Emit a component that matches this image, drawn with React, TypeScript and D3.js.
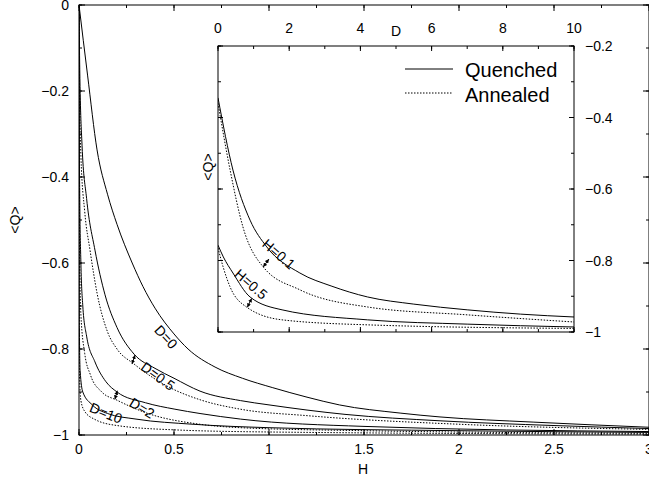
import React from 'react';
import * as d3 from 'd3';

// ---------- Main plot data: <Q> vs H ----------
const mainXTicks = [0, 0.5, 1, 1.5, 2, 2.5, 3];
const mainXTickLabels = ['0', '0.5', '1', '1.5', '2', '2.5', '3'];
const mainYTicks = [0, -0.2, -0.4, -0.6, -0.8, -1];
const mainYTickLabels = ['0', '−0.2', '−0.4', '−0.6', '−0.8', '−1'];

const curveD0 = [[0, 0], [0.045, -0.163], [0.095, -0.337], [0.15, -0.44], [0.2, -0.51], [0.28, -0.6], [0.337, -0.655], [0.4, -0.705], [0.5, -0.765], [0.574, -0.8], [0.716, -0.842], [0.86, -0.868], [1.02, -0.89], [1.2, -0.912], [1.37, -0.93], [1.69, -0.949], [1.9, -0.958], [2.39, -0.97], [3, -0.982]];
const curveD05Q = [[0, 0], [0.004, -0.15], [0.016, -0.326], [0.04, -0.45], [0.084, -0.57], [0.137, -0.674], [0.2, -0.75], [0.29, -0.812], [0.4, -0.845], [0.5, -0.868], [0.637, -0.898], [0.85, -0.92], [1.0, -0.93], [1.4, -0.952], [1.9, -0.967], [2.5, -0.978], [3, -0.985]];
const curveD05A = [[0, 0], [0.003, -0.2], [0.01, -0.35], [0.03, -0.48], [0.058, -0.57], [0.095, -0.67], [0.15, -0.76], [0.2, -0.8], [0.29, -0.835], [0.48, -0.89], [0.637, -0.918], [0.85, -0.94], [1.2, -0.955], [2, -0.975], [3, -0.987]];
const curveD2Q = [[0, 0], [0.001, -0.25], [0.004, -0.45], [0.01, -0.6], [0.02, -0.7], [0.04, -0.77], [0.084, -0.83], [0.14, -0.875], [0.2, -0.9], [0.35, -0.925], [0.505, -0.94], [0.637, -0.95], [0.85, -0.963], [1.5, -0.98], [3, -0.992]];
const curveD2A = [[0, 0], [0.001, -0.35], [0.004, -0.6], [0.01, -0.72], [0.03, -0.81], [0.06, -0.86], [0.12, -0.9], [0.2, -0.919], [0.35, -0.948], [0.637, -0.975], [0.85, -0.983], [1.5, -0.99], [3, -0.996]];
const curveD10Q = [[0, 0], [0.0005, -0.5], [0.002, -0.75], [0.006, -0.85], [0.02, -0.9], [0.07, -0.93], [0.15, -0.95], [0.3, -0.963], [0.6, -0.975], [1, -0.983], [2, -0.99], [3, -0.994]];
const curveD10A = [[0, 0], [0.0003, -0.6], [0.002, -0.85], [0.01, -0.92], [0.03, -0.945], [0.08, -0.963], [0.2, -0.978], [0.5, -0.988], [1, -0.993], [3, -0.998]];

const mainSolid = [curveD0, curveD05Q, curveD2Q, curveD10Q];
const mainDotted = [curveD05A, curveD2A, curveD10A];

const mainLabelText = ['D=0', 'D=0.5', 'D=2', 'D=10'];
const mainLabelAt = [[0.458, -0.772], [0.416, -0.863], [0.332, -0.937], [0.142, -0.949]];
const mainLabelAngle = [47, 36, 31, 22];
const mainArrows = [[0.295, -0.814, 0.279, -0.835], [0.2016, -0.897, 0.189, -0.917]];

// ---------- Inset data: <Q> vs D ----------
const insetXTicks = [0, 2, 4, 6, 8, 10];
const insetXTickLabels = ['0', '2', '4', '6', '8', '10'];
const insetYTicks = [-0.2, -0.4, -0.6, -0.8, -1];
const insetYTickLabels = ['−0.2', '−0.4', '−0.6', '−0.8', '−1'];

const curveH01Q = [[0, -0.345], [0.42, -0.547], [0.9, -0.687], [1.37, -0.762], [2.3, -0.835], [3.2, -0.872], [4.2, -0.902], [5.5, -0.922], [7, -0.938], [8.5, -0.95], [10, -0.958]];
const curveH01A = [[0, -0.36], [0.34, -0.547], [0.7, -0.706], [1.27, -0.818], [2.3, -0.882], [4.2, -0.93], [7, -0.952], [10, -0.972]];
const curveH05Q = [[0, -0.757], [0.15, -0.79], [0.42, -0.835], [0.9, -0.902], [1.8, -0.938], [4.2, -0.966], [7, -0.978], [10, -0.986]];
const curveH05A = [[0, -0.765], [0.15, -0.82], [0.34, -0.874], [0.8, -0.93], [1.8, -0.966], [4.2, -0.98], [10, -0.99]];

const insetSolid = [curveH01Q, curveH05Q];
const insetDotted = [curveH01A, curveH05A];

const insetLabelText = ['H=0.1', 'H=0.5'];
const insetLabelAt = [[1.71, -0.782], [0.93, -0.866]];
const insetLabelAngle = [41, 41];
const insetArrows = [[1.43, -0.796, 1.27, -0.818], [0.947, -0.906, 0.823, -0.931]];

const legendNames = ['Quenched', 'Annealed'];

const FONT = '"Liberation Sans", Arial, Helvetica, sans-serif';
const DOT = '1.5,1.5';

export default function App() {
  const xM = d3.scaleLinear().domain([0, 3]).range([79, 649]);
  const yM = d3.scaleLinear().domain([0, -1]).range([5, 435]);
  const xI = d3.scaleLinear().domain([0, 10]).range([218, 574]);
  const yI = d3.scaleLinear().domain([-0.2, -1]).range([46, 332]);

  const lineM = d3.line<number[]>().x(d => xM(d[0])).y(d => yM(d[1])).curve(d3.curveMonotoneX);
  const lineI = d3.line<number[]>().x(d => xI(d[0])).y(d => yI(d[1])).curve(d3.curveMonotoneX);

  const [mx0, mx1] = xM.range();
  const [my0, my1] = yM.range();
  const [ix0, ix1] = xI.range();
  const [iy0, iy1] = yI.range();

  const mainMinorX = d3.range(0, 3.0001, 0.25);
  const mainMinorY = d3.range(0, -1.0001, -0.1);
  const insetMinorX = d3.range(0, 10.0001, 1);
  const insetMinorY = d3.range(-0.2, -1.0001, -0.1);

  const tickLines = (xs: number[], ys: number[], xS: any, yS: any, x0: number, x1: number, y0: number, y1: number, len: number, key: string) => (
    <g key={key}>
      {xs.map((v, i) => (
        <g key={'x' + i}>
          <line x1={xS(v)} x2={xS(v)} y1={y1} y2={y1 - len} stroke="black" strokeWidth={1} />
          <line x1={xS(v)} x2={xS(v)} y1={y0} y2={y0 + len} stroke="black" strokeWidth={1} />
        </g>
      ))}
      {ys.map((v, i) => (
        <g key={'y' + i}>
          <line x1={x0} x2={x0 + len} y1={yS(v)} y2={yS(v)} stroke="black" strokeWidth={1} />
          <line x1={x1} x2={x1 - len} y1={yS(v)} y2={yS(v)} stroke="black" strokeWidth={1} />
        </g>
      ))}
    </g>
  );

  return (
    <svg width={649} height={485} style={{ position: 'absolute', left: 0, top: 0, background: 'white' }} fontFamily={FONT}>
      <defs>
        <clipPath id="mainClip"><rect x={mx0} y={my0} width={mx1 - mx0} height={my1 - my0} /></clipPath>
        <clipPath id="insetClip"><rect x={ix0} y={iy0} width={ix1 - ix0} height={iy1 - iy0} /></clipPath>
        <marker id="ah" viewBox="0 0 6 6" refX={6} refY={3} markerWidth={4} markerHeight={4} orient="auto-start-reverse">
          <path d="M0,0 L6,3 L0,6 z" fill="black" />
        </marker>
      </defs>
      <rect x={0} y={0} width={649} height={485} fill="white" />

      {/* main curves */}
      <g clipPath="url(#mainClip)">
        {mainSolid.map((c, i) => <path key={'ms' + i} d={lineM(c) || ''} fill="none" stroke="black" strokeWidth={1} />)}
        {mainDotted.map((c, i) => <path key={'md' + i} d={lineM(c) || ''} fill="none" stroke="black" strokeWidth={1} strokeDasharray={DOT} />)}
      </g>
      {mainArrows.map((a, i) => (
        <line key={'ma' + i} x1={xM(a[0])} y1={yM(a[1])} x2={xM(a[2])} y2={yM(a[3])} stroke="black" strokeWidth={1} markerStart="url(#ah)" markerEnd="url(#ah)" />
      ))}
      {mainLabelText.map((t, i) => (
        <text key={'ml' + i} x={xM(mainLabelAt[i][0])} y={yM(mainLabelAt[i][1])} fontSize={14} textAnchor="middle" dominantBaseline="central"
          transform={`rotate(${mainLabelAngle[i]} ${xM(mainLabelAt[i][0])} ${yM(mainLabelAt[i][1])})`}>{t}</text>
      ))}

      {/* main frame & ticks */}
      <rect x={mx0} y={my0} width={mx1 - mx0} height={my1 - my0} fill="none" stroke="black" strokeWidth={1} />
      {tickLines(mainMinorX, mainMinorY, xM, yM, mx0, mx1, my0, my1, 3, 'mminor')}
      {tickLines(mainXTicks, mainYTicks, xM, yM, mx0, mx1, my0, my1, 6, 'mmajor')}
      {mainXTicks.map((v, i) => (
        <text key={'mxl' + i} x={xM(v)} y={449} fontSize={14} textAnchor="middle" dominantBaseline="central">{mainXTickLabels[i]}</text>
      ))}
      {mainYTicks.map((v, i) => (
        <text key={'myl' + i} x={69} y={yM(v)} fontSize={14} textAnchor="end" dominantBaseline="central">{mainYTickLabels[i]}</text>
      ))}
      <text x={(mx0 + 649) / 2 - 1} y={469} fontSize={14} textAnchor="middle" dominantBaseline="central">H</text>
      <text x={15} y={220} fontSize={14} textAnchor="middle" dominantBaseline="central" transform="rotate(-90 15 220)">{'<Q>'}</text>

      {/* inset */}
      <rect x={ix0} y={iy0} width={ix1 - ix0} height={iy1 - iy0} fill="white" />
      <g clipPath="url(#insetClip)">
        {insetSolid.map((c, i) => <path key={'is' + i} d={lineI(c) || ''} fill="none" stroke="black" strokeWidth={1} />)}
        {insetDotted.map((c, i) => <path key={'id' + i} d={lineI(c) || ''} fill="none" stroke="black" strokeWidth={1} strokeDasharray={DOT} />)}
      </g>
      {insetArrows.map((a, i) => (
        <line key={'ia' + i} x1={xI(a[0])} y1={yI(a[1])} x2={xI(a[2])} y2={yI(a[3])} stroke="black" strokeWidth={1} markerStart="url(#ah)" markerEnd="url(#ah)" />
      ))}
      {insetLabelText.map((t, i) => (
        <text key={'il' + i} x={xI(insetLabelAt[i][0])} y={yI(insetLabelAt[i][1])} fontSize={14} textAnchor="middle" dominantBaseline="central"
          transform={`rotate(${insetLabelAngle[i]} ${xI(insetLabelAt[i][0])} ${yI(insetLabelAt[i][1])})`}>{t}</text>
      ))}
      <rect x={ix0} y={iy0} width={ix1 - ix0} height={iy1 - iy0} fill="none" stroke="black" strokeWidth={1} />
      {tickLines(insetMinorX, insetMinorY, xI, yI, ix0, ix1, iy0, iy1, 3, 'iminor')}
      {tickLines(insetXTicks, insetYTicks, xI, yI, ix0, ix1, iy0, iy1, 5, 'imajor')}
      {insetXTicks.map((v, i) => (
        <text key={'ixl' + i} x={xI(v)} y={28} fontSize={14} textAnchor="middle" dominantBaseline="central">{insetXTickLabels[i]}</text>
      ))}
      {insetYTicks.map((v, i) => (
        <text key={'iyl' + i} x={585} y={yI(v)} fontSize={14} textAnchor="start" dominantBaseline="central">{insetYTickLabels[i]}</text>
      ))}
      <text x={xI(5)} y={31} fontSize={14} textAnchor="middle" dominantBaseline="central">D</text>
      <text x={208} y={167} fontSize={14} textAnchor="middle" dominantBaseline="central" transform="rotate(-90 208 167)">{'<Q>'}</text>

      {/* legend */}
      {legendNames.map((n, i) => (
        <g key={'lg' + i}>
          <line x1={405} x2={453} y1={69 + i * 24} y2={69 + i * 24} stroke="black" strokeWidth={1} strokeDasharray={i === 1 ? DOT : undefined} />
          <text x={465} y={70 + i * 25} fontSize={20} textAnchor="start" dominantBaseline="central">{n}</text>
        </g>
      ))}
    </svg>
  );
}
